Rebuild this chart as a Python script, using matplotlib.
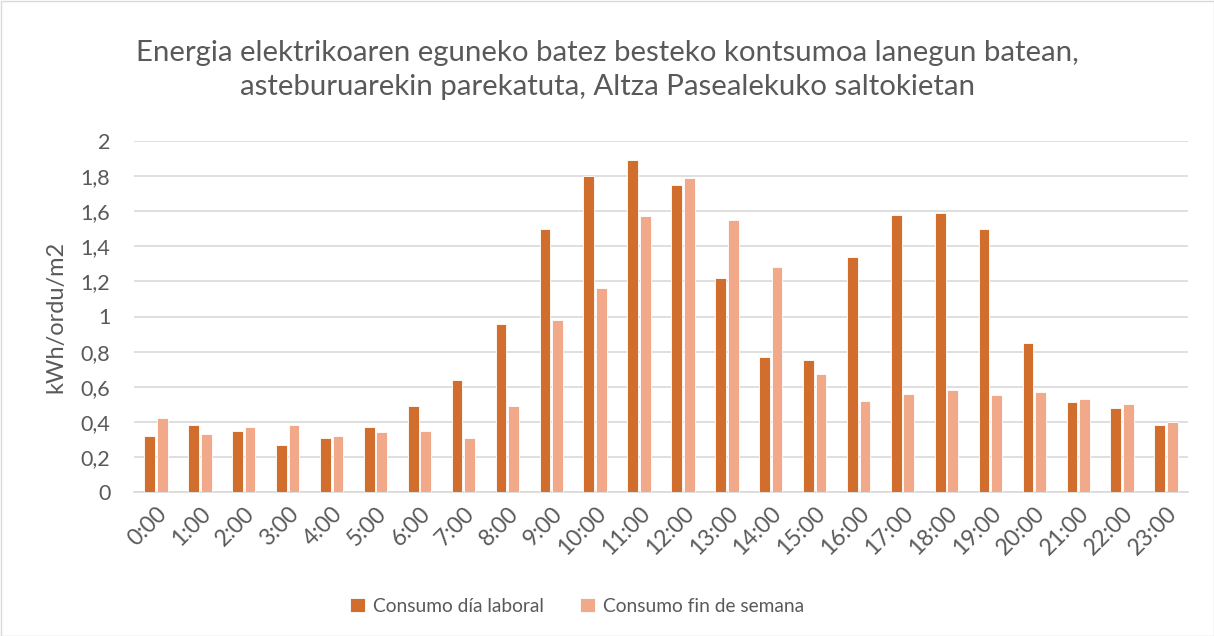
import matplotlib
matplotlib.use("Agg")
import matplotlib.pyplot as plt
import numpy as np
from matplotlib.patches import Rectangle

hours = [f"{h}:00" for h in range(24)]
laboral = [0.32, 0.38, 0.35, 0.27, 0.31, 0.37, 0.49, 0.64, 0.96, 1.50, 1.80, 1.89,
           1.75, 1.22, 0.77, 0.75, 1.34, 1.58, 1.59, 1.50, 0.85, 0.51, 0.48, 0.38]
finde = [0.42, 0.33, 0.37, 0.38, 0.32, 0.34, 0.35, 0.31, 0.49, 0.98, 1.16, 1.57,
         1.79, 1.55, 1.28, 0.67, 0.52, 0.56, 0.58, 0.55, 0.57, 0.53, 0.50, 0.40]
yticks = [0, 0.2, 0.4, 0.6, 0.8, 1, 1.2, 1.4, 1.6, 1.8, 2]
yticklabels = ["0", "0,2", "0,4", "0,6", "0,8", "1", "1,2", "1,4", "1,6", "1,8", "2"]

plt.rcParams['font.family'] = ['Lato', 'DejaVu Sans']
W, H = 1214, 636
fig = plt.figure(figsize=(W/100, H/100), dpi=100)
ax = fig.add_axes([134/W, 1-492/H, (1188-134)/W, (492-141)/H])

dark = '#D26E2D'
light = '#F1A98A'
gray = '#595959'
x = np.arange(len(hours))
bw = 0.245
ax.bar(x - bw/2 - 0.02, laboral, bw, color=dark, edgecolor='white', linewidth=0.6,
       label='Consumo día laboral', zorder=3)
ax.bar(x + bw/2 + 0.02, finde, bw, color=light, edgecolor='white', linewidth=0.6,
       label='Consumo fin de semana', zorder=3)

ax.set_xlim(-0.5, 23.5)
ax.set_ylim(0, 2)
ax.set_yticks(yticks)
ax.set_yticklabels(yticklabels)
ax.set_xticks(x)
ax.set_xticklabels(hours, rotation=45, ha='right', rotation_mode='anchor')
ax.tick_params(axis='both', length=0, labelsize=16.5, colors=gray)
ax.tick_params(axis='y', labelsize=15.5, pad=17)
ax.tick_params(axis='x', pad=8)
ax.grid(axis='y', color='#D9D9D9', linewidth=1.2, zorder=0)
for s in ['top', 'right', 'left']:
    ax.spines[s].set_visible(False)
ax.spines['bottom'].set_color('#D9D9D9')
ax.spines['bottom'].set_linewidth(1.2)
ax.set_ylabel('kWh/ordu/m2', fontsize=17, color=gray, labelpad=10)

fig.text(0.5, 1-70/H, "Energia elektrikoaren eguneko batez besteko kontsumoa lanegun batean,\n"
         "asteburuarekin parekatuta, Altza Pasealekuko saltokietan",
         ha='center', va='center', fontsize=21.2, color=gray, linespacing=1.36)

leg = fig.legend(loc='center', bbox_to_anchor=(577/W, 1-606/H), ncol=2, frameon=False,
                 fontsize=13.8, handlelength=0.8, handleheight=0.8, handletextpad=0.4,
                 columnspacing=1.9)
for t in leg.get_texts():
    t.set_color(gray)

fig.patches.append(Rectangle((0.5/W, 0.5/H), 1-1/W, 1-1/H, transform=fig.transFigure,
                             fill=False, edgecolor='#D9D9D9', linewidth=1))
fig.savefig('out.png', dpi=100)
